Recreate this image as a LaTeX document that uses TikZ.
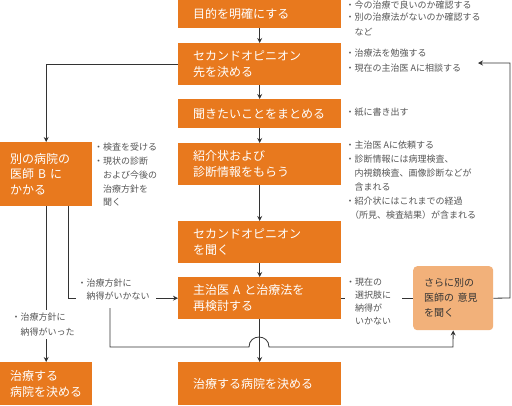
\documentclass[tikz,border=0pt]{standalone}
\usepackage{fontspec}
\setmainfont{Noto Sans CJK JP}
\usetikzlibrary{arrows.meta,calc}
\definecolor{org}{RGB}{232,121,30}
\definecolor{lorg}{RGB}{242,177,122}
\definecolor{ln}{RGB}{51,51,51}
\definecolor{anncol}{RGB}{85,85,85}
\begin{document}
\begin{tikzpicture}[x=1pt,y=-1pt,
  mbox/.style={fill=org, text=white, anchor=north west, minimum width=163pt, minimum height=#1,
    text width=133pt, inner xsep=15pt, inner ysep=0pt, align=left, font=\fontsize{12}{16}\selectfont},
  lbox/.style={fill=org, text=white, anchor=north west, minimum width=92pt, minimum height=#1,
    text width=72pt, inner xsep=10pt, inner ysep=0pt, align=left, font=\fontsize{12}{15.5}\selectfont},
  rbox/.style={fill=lorg, text=ln, anchor=north west, minimum width=80pt, minimum height=64pt,
    text width=58pt, inner xsep=11pt, inner ysep=0pt, rounded corners=4pt, align=left, font=\fontsize{10}{15}\selectfont},
  an/.style={anchor=west, inner sep=0pt, text=anncol, font=\fontsize{9}{14}\selectfont},
  ov/.style={anchor=west, fill=white, text=anncol, align=left, inner ysep=1pt},
  arr/.style={draw=ln, line width=0.8pt, -{Stealth[length=5pt,width=5pt]}},
  plain/.style={draw=ln, line width=0.8pt}]
\useasboundingbox (0,0) rectangle (512,405);

% main column
\node[mbox=28pt] (B1) at (178,0) {目的を明確にする};
\node[mbox=42pt] (B2) at (178,43) {セカンドオピニオン\\先を決める};
\node[mbox=29pt] (B3) at (178,99) {聞きたいことをまとめる};
\node[mbox=42pt] (B4) at (178,143) {紹介状および\\診断情報をもらう};
\node[mbox=42pt] (B5) at (178,221) {セカンドオピニオン\\を聞く};
\node[mbox=42pt] (B6) at (178,277) {主治医 A と治療法を\\再検討する};
\node[mbox=43pt] (B7) at (178,362) {治療する病院を決める};

% left column
\node[lbox=64pt] (L1) at (0,142) {別の病院の\\医師 B に\\かかる};
\node[lbox=43pt] (L2) at (0,362) {治療する\\病院を決める};

% right box
\node[rbox] (R) at (413,266) {さらに別の\\医師の 意見\\を聞く};

% annotations
\node[an] (a1) at (345.5,5) {・今の治療で良いのか確認する};
\node[an] (a2) at (345.5,17.5) {・別の治療法がないのか確認する};
\node[an] (a3) at (354.5,32) {など};
\node[an] (a4) at (345.5,53) {・治療法を勉強する};
\node[an] (a5) at (345.5,68) {・現在の主治医 Aに相談する};
\node[an] (a6) at (345.5,112) {・紙に書き出す};
\node[an] (a7) at (345.5,145) {・主治医 Aに依頼する};
\node[an] (a8) at (345.5,159.5) {・診断情報には病理検査、};
\node[an] (a9) at (354.5,173) {内視鏡検査、画像診断などが};
\node[an] (a10) at (354.5,187) {含まれる};
\node[an] (a11) at (345.5,201) {・紹介状にはこれまでの経過};
\node[an] (a12) at (350,215) {（所見、検査結果）が含まれる};

\node[an] (b1) at (94,147.5) {・検査を受ける};
\node[an] (b2) at (94,161.5) {・現状の診断};
\node[an] (b3) at (103,175) {および今後の};
\node[an] (b4) at (103,189) {治療方針を};
\node[an] (b5) at (103,202) {聞く};

% connectors
\draw[arr] (B1.south) -- (B2.north);
\draw[arr] (B2.south) -- (B3.north);
\draw[arr] (B3.south) -- (B4.north);
\draw[arr] (B4.south) -- (B5.north);
\draw[arr] (B5.south) -- (B6.north);
\draw[arr] (B6.south) -- (B7.north);

\draw[arr] (B2.west) -| (L1.north);
\draw[arr] (L1.south) -- (L2.north);
\draw[arr] ($(L1.south west)+(68,0)$) |- (B6.west);

\coordinate (c1) at (110,308);
\draw[arr] (c1) -- (110,347) -- (249,347) .. controls (249,333.7) and (269,333.7) .. (269,347) -- (453,347) -- (R.south);

\draw[plain] (B6.east) -- (R.west);

\coordinate (ret) at (478,63);
\draw[arr] (R.east) -- (510,298) -- (510,63) -- (ret);

% labels over connectors
\node[ov, inner xsep=2pt, text width=76pt, font=\fontsize{9}{13}\selectfont] (n1) at (75.5,289.5) {・治療方針に\\\hspace*{1em}納得がいかない};
\node[ov, inner xsep=2pt, inner ysep=3pt, font=\fontsize{9}{15}\selectfont] (n2) at (9.5,324.5) {・治療方針に\\\hspace*{1em}納得がいった};
\node[ov, inner xsep=1pt, text width=55pt, font=\fontsize{9}{13}\selectfont] (n3) at (345,301.5) {・現在の\\\hspace*{1em}選択肢に\\\hspace*{1em}納得が\\\hspace*{1em}いかない};
\end{tikzpicture}
\end{document}
